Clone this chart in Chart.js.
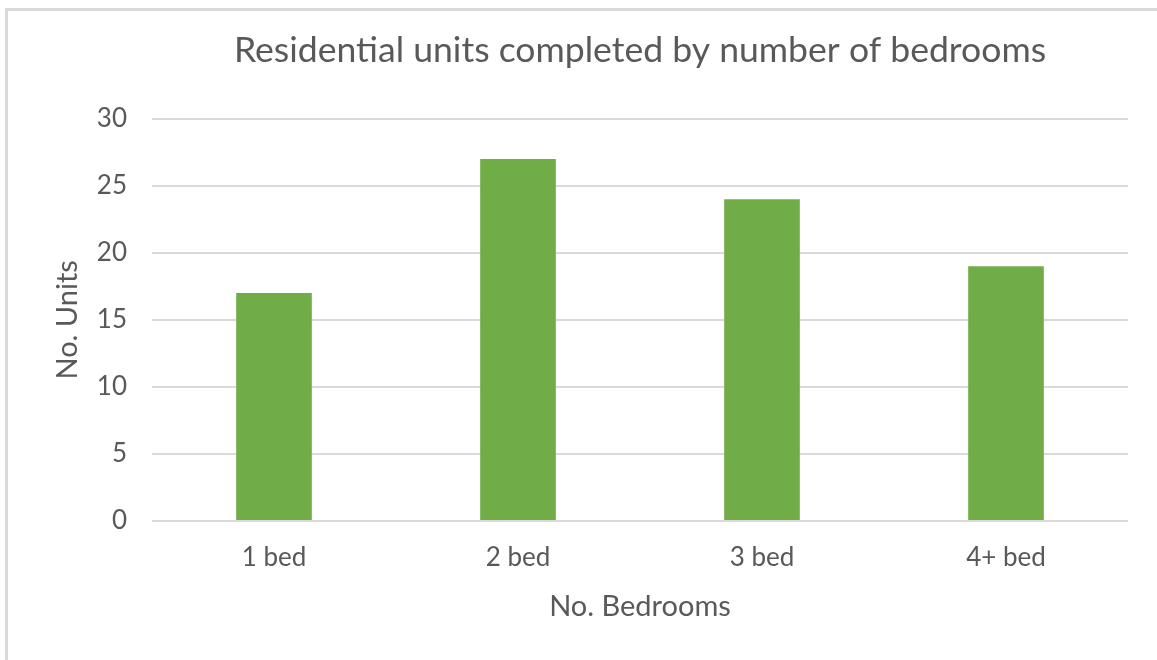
<!DOCTYPE html>
<html>
<head>
<meta charset="utf-8">
<script src="https://cdn.jsdelivr.net/npm/chart.js@4.4.1/dist/chart.umd.min.js"></script>
<style>
  html, body { margin: 0; padding: 0; background: #fff; overflow: hidden; }
  #marco {
    position: absolute; left: 5px; top: 8px; width: 1200px; height: 700px;
    border-top: 3px solid #d9d9d9; border-left: 3px solid #d9d9d9;
  }
  #lienzo { position: absolute; left: 0; top: 0; }
</style>
</head>
<body>
<div id="marco"></div>
<canvas id="lienzo" width="1157" height="660"></canvas>
<script>
// ---------- DATOS ----------
const categorias = ["1 bed", "2 bed", "3 bed", "4+ bed"];
const unidades   = [17, 27, 24, 19];
const marcasY    = [0, 5, 10, 15, 20, 25, 30];

const GRIS_TEXTO = "#595959";
const GRIS_LINEA = "#d9d9d9";
const VERDE      = "#70ad47";
const FUENTE     = "Lato, 'Open Sans', sans-serif";

const ctx = document.getElementById("lienzo").getContext("2d");
new Chart(ctx, {
  type: "bar",
  data: {
    labels: categorias,
    datasets: [{
      label: "No. Units",
      data: unidades,
      backgroundColor: VERDE,
      borderWidth: 0,
      barPercentage: 0.31,
      categoryPercentage: 1
    }]
  },
  options: {
    responsive: false,
    animation: false,
    layout: { padding: { left: 0, right: 29, top: 0, bottom: 0 } },
    plugins: {
      legend: { display: false },
      tooltip: { enabled: false },
      title: {
        display: true,
        fullSize: false,   // centrado sobre el area de las barras
        text: "Residential units completed by number of bedrooms",
        color: GRIS_TEXTO,
        font: { family: FUENTE, size: 35.6, weight: "normal" },
        padding: { top: 29, bottom: 47 }
      }
    },
    scales: {
      x: {
        afterFit: s => { s.height = 139; },
        grid: { display: false, drawTicks: false },
        border: { display: false },
        ticks: { color: GRIS_TEXTO, font: { family: FUENTE, size: 26 }, padding: 21 },
        title: {
          display: true, text: "No. Bedrooms", color: GRIS_TEXTO,
          font: { family: FUENTE, size: 29 }, padding: { top: 0, bottom: 36 }
        }
      },
      y: {
        min: 0, max: 30,
        afterFit: s => { s.width = 152; },
        afterBuildTicks: s => { s.ticks = marcasY.map(v => ({ value: v })); },
        grid: { color: GRIS_LINEA, lineWidth: 2, drawTicks: false },
        border: { display: false },
        ticks: { color: GRIS_TEXTO, font: { family: FUENTE, size: 26 }, padding: 25 },
        title: {
          display: true, text: "No. Units", color: GRIS_TEXTO,
          font: { family: FUENTE, size: 29 }, padding: { top: 50, bottom: 0 }
        }
      }
    }
  }
});
</script>
</body>
</html>
